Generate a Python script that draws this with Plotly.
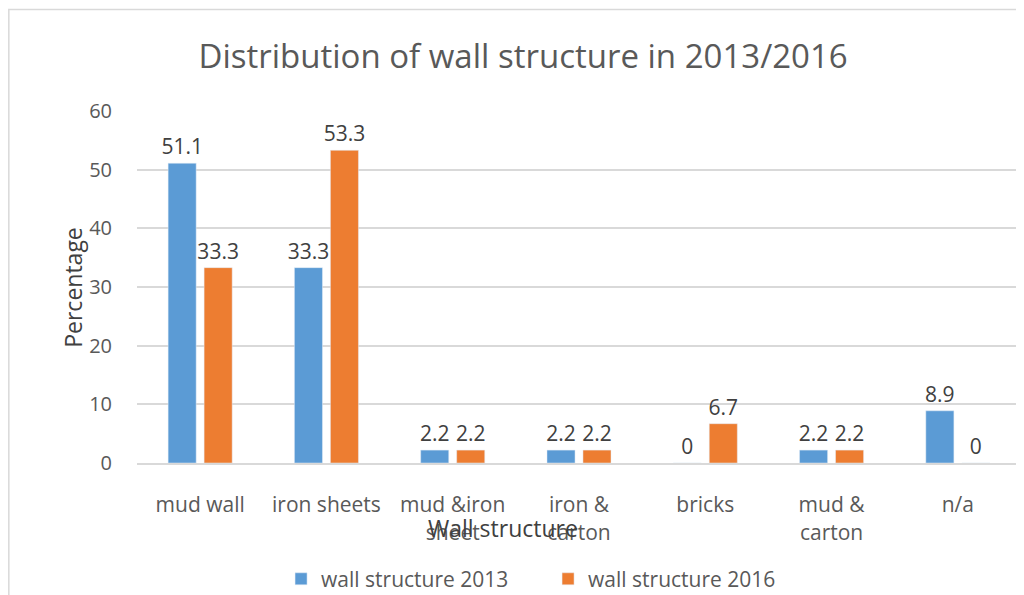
import plotly.graph_objects as go

categories = ["mud wall", "iron sheets", "mud &iron<br>sheet", "iron &<br>carton",
              "bricks", "mud &<br>carton", "n/a"]
values_2013 = [51.1, 33.3, 2.2, 2.2, 0, 2.2, 8.9]
values_2016 = [33.3, 53.3, 2.2, 2.2, 6.7, 2.2, 0]
y_ticks = [0, 10, 20, 30, 40, 50, 60]

font_family = "Open Sans, sans-serif"
text_grey = "#595959"
label_grey = "#404040"

# the page body adds an 8px offset, so the figure is drawn 8px smaller
fig = go.Figure()
fig.add_trace(go.Bar(
    x=categories, y=values_2013, name="wall structure 2013",
    marker=dict(color="#5B9BD5"),
    text=[f"{v:g}" for v in values_2013], textposition="outside",
    constraintext="none",
    textfont=dict(size=21, color=label_grey), cliponaxis=False,
))
fig.add_trace(go.Bar(
    x=categories, y=values_2016, name="wall structure 2016",
    marker=dict(color="#ED7D31"),
    text=[f"{v:g}" for v in values_2016], textposition="outside",
    constraintext="none",
    textfont=dict(size=21, color=label_grey), cliponaxis=False,
))

fig.update_layout(
    width=1016, height=587,
    margin=dict(l=129, r=3, t=103, b=132, autoexpand=False),
    paper_bgcolor="white", plot_bgcolor="white",
    font=dict(family=font_family, color=text_grey, size=19),
    barmode="group", bargap=0.43, bargroupgap=0.22,
    title=dict(text="Distribution of wall structure in 2013/2016",
               x=0.507, xanchor="center", y=0.918, yanchor="middle",
               font=dict(size=33, color=text_grey)),
    showlegend=True,
    legend=dict(orientation="h", x=0.465, xanchor="center", y=-0.33, yanchor="middle",
                font=dict(size=21, color=text_grey), itemwidth=30,
                traceorder="normal", entrywidth=222),
    xaxis=dict(showgrid=False, showline=True, linecolor="#d9d9d9", linewidth=2,
               automargin=False,
               tickfont=dict(size=21, color=text_grey), ticklabelstandoff=22),
    yaxis=dict(range=[0, 60], tickvals=y_ticks, showgrid=True, gridcolor="#d9d9d9",
               gridwidth=1.5, zeroline=False, showline=False, automargin=False,
               tickfont=dict(size=20, color=text_grey), ticklabelstandoff=24),
    annotations=[
        dict(text="Percentage", xref="paper", yref="paper", x=-0.093, y=0.5,
             textangle=-90, showarrow=False, font=dict(size=23, color=label_grey)),
        dict(text="Wall structure", xref="paper", yref="paper", x=0.414, y=-0.236,
             showarrow=False, font=dict(size=23, color=label_grey)),
    ],
    shapes=[dict(type="rect", xref="paper", yref="paper",
                 x0=-0.145, x1=1.2, y0=-0.6, y1=1.288,
                 line=dict(color="#d9d9d9", width=1.5))],
)

fig.write_html("out.html")
